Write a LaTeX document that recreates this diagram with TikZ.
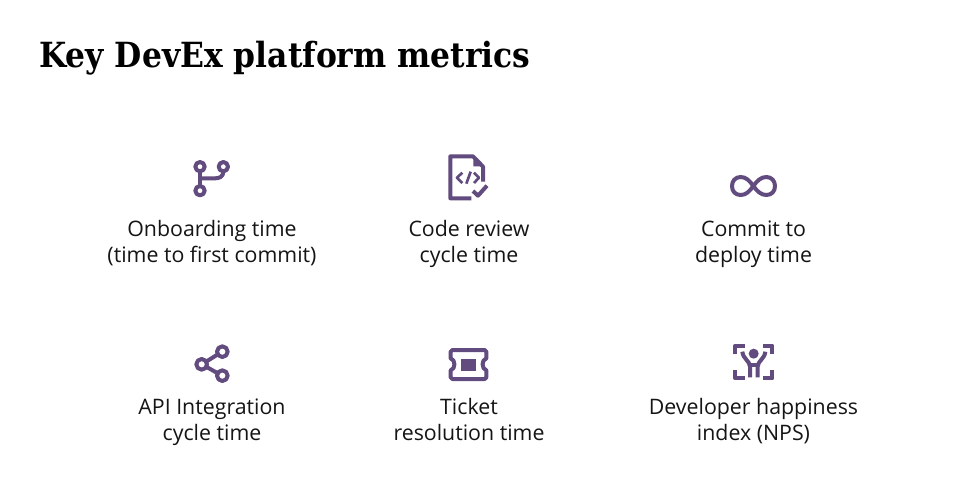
\documentclass[tikz,border=0pt]{standalone}
\usepackage{fontspec}
\setmainfont{Open Sans}
\newfontfamily\titlefont[FakeStretch=0.905]{DejaVu Serif}
\definecolor{iconpurple}{HTML}{614B7F}
\definecolor{inkblack}{HTML}{151515}
\tikzset{
  label/.style={align=center,font=\fontsize{16}{19.5}\selectfont,text=inkblack,inner sep=0pt,anchor=base},
  icon/.style={draw=iconpurple,line width=3pt,line join=round,fill=none},
  iconthin/.style={icon,line width=2pt},
  iconfill/.style={fill=iconpurple,draw=none},
  zoomed/.style={x=0.25pt,y=-0.25pt}
}
\begin{document}
\begin{tikzpicture}[x=0.75pt,y=-0.75pt]
\useasboundingbox[fill=white] (0,0) rectangle (960,497);
\node[anchor=base west,inner sep=0pt,font=\titlefont\bfseries\fontsize{26}{32}\selectfont,text=black] (title) at (39,67.5) {Key DevEx platform metrics};
\node[label] (t1) at (212,262) {Onboarding time\\(time to first commit)};
\node[label] (t2) at (469,262) {Code review\\cycle time};
\node[label] (t3) at (753.5,262) {Commit to\\deploy time};
\node[label] (t4) at (212,440) {API Integration\\cycle time};
\node[label] (t5) at (469,440) {Ticket\\resolution time};
\node[label] (t6) at (753.5,440) {Developer happiness\\index (NPS)};
% branch icon
\begin{scope}[shift={(180,145)},zoomed]
\draw[icon] (60,65) circle (14);
\draw[icon] (130,65) circle (14);
\draw[icon] (60,137) circle (14);
\draw[icon] (60,80) -- (60,122);
\draw[icon] (130,80) .. controls (130,95) and (118,100) .. (105,100) -- (60,100);
\end{scope}
% code file icon
\begin{scope}[shift={(438,145)},zoomed]
\draw[icon] (100,160) -- (37,160) -- (37,34) -- (105,34) -- (135,65) -- (135,110);
\path[iconfill] (106,35) -- (106,64) -- (136,64) -- cycle;
\draw[iconthin] (73,83) -- (57,98) -- (73,114);
\draw[iconthin] (85,116) -- (98,80);
\draw[iconthin] (108,83) -- (123,98) -- (108,114);
\draw[icon] (105,138) -- (120,152) -- (147,122);
\end{scope}
% infinity icon
\begin{scope}[shift={(723,155)},zoomed]
\draw[icon] (91,93) .. controls (102,78) and (113,66) .. (130,66) .. controls (146,66) and (156,78) .. (156,93) .. controls (156,109) and (146,120) .. (130,120) .. controls (113,120) and (102,108) .. (91,93) .. controls (80,78) and (70,66) .. (53,66) .. controls (37,66) and (27,78) .. (27,93) .. controls (27,109) and (37,120) .. (53,120) .. controls (70,120) and (80,108) .. (91,93) -- cycle;
\end{scope}
% share icon
\begin{scope}[shift={(180,335)},zoomed]
\draw[icon] (127,50) circle (16);
\draw[icon] (65,88) circle (16);
\draw[icon] (127,122) circle (16);
\draw[icon] (80,79) -- (112,59);
\draw[icon] (80,96) -- (112,114);
\end{scope}
% ticket icon
\begin{scope}[shift={(438,335)},zoomed]
\draw[icon] (43,45) -- (140,45) .. controls (143,45) and (145,47) .. (145,50) -- (145,70) .. controls (130,74) and (130,102) .. (145,106) -- (145,127) .. controls (145,130) and (143,132) .. (140,132) -- (43,132) .. controls (40,132) and (38,130) .. (38,127) -- (38,106) .. controls (53,102) and (53,74) .. (38,70) -- (38,50) .. controls (38,47) and (40,45) .. (43,45) -- cycle;
\path[iconfill] (68,72) rectangle (115,108);
\end{scope}
% happiness icon
\begin{scope}[shift={(723,335)},zoomed]
\draw[icon] (37,58) -- (37,32) -- (65,32);
\draw[icon] (120,32) -- (148,32) -- (148,58);
\draw[icon] (148,106) -- (148,130) -- (120,130);
\draw[icon] (65,130) -- (37,130) -- (37,106);
\path[iconfill] (92,56) circle (15);
\draw[icon] (58,50) .. controls (60,72) and (81,78) .. (81,95) -- (81,127);
\draw[icon] (127,50) .. controls (125,72) and (104,78) .. (104,95) -- (104,127);
\draw[icon] (81,91) -- (104,91);
\end{scope}
\end{tikzpicture}
\end{document}
